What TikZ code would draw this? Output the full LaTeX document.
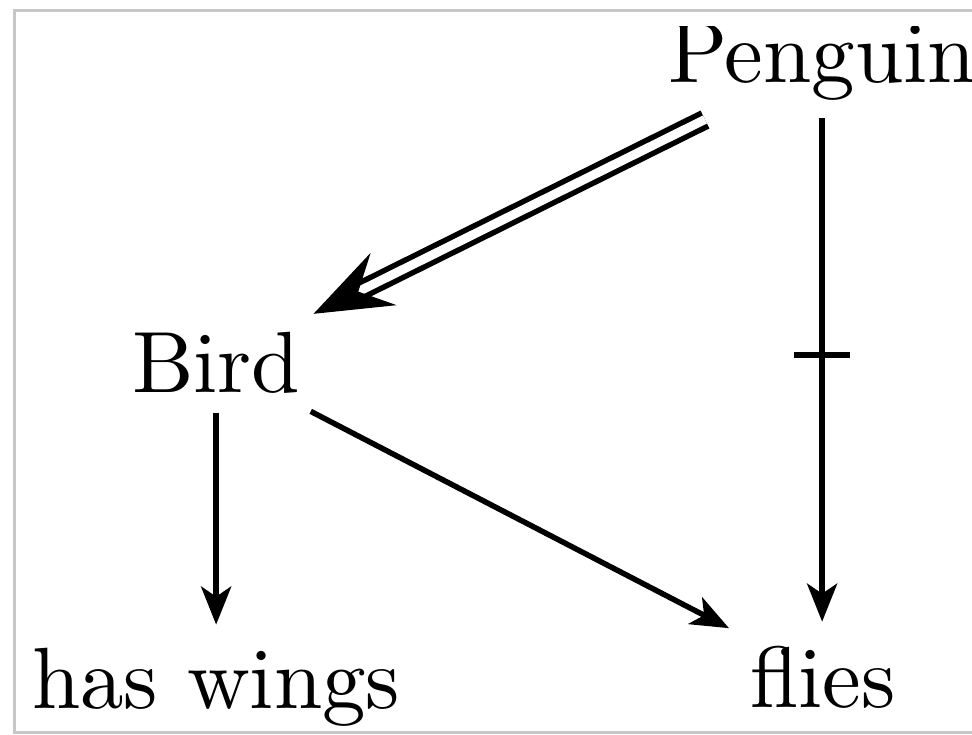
\documentclass[tikz,border=0pt]{standalone}
\usepackage{fontspec}
\setmainfont{lmroman10-regular.otf}
\usetikzlibrary{arrows.meta,calc}
\begin{document}
\begin{tikzpicture}[x=1pt,y=-1pt,
  lbl/.style={inner sep=0pt, outer sep=0pt, anchor=base west, font=\fontsize{87}{100}\selectfont},
  arr/.style={line width=5.5pt, -{Stealth[length=38pt,width=30pt,inset=10pt]}},
  dbl/.style={line width=5.5pt, double distance=9pt, -{Stealth[length=78pt,width=58pt,inset=28pt]}}]
\useasboundingbox (0,0) rectangle (972,734);
\fill[white] (0,0) rectangle (972,734);
\draw[line width=3pt, black!22] (972,10) -- (14,10) -- (14,732) -- (972,732);
\begin{scope}
\clip (16,26) rectangle (972,730);
\node[lbl] (p) at (668,82) {Penguin};
\node[lbl] (b) at (132,392) {Bird};
\node[lbl] (w) at (32,708) {has wings};
\node[lbl] (f) at (750,707) {flies};
\draw[dbl, shorten <=44pt, shorten >=40pt] (p) -- (b);
\draw[arr, shorten <=18pt, shorten >=24pt] (p.south) -- (p.south |- f.north);
\coordinate (m) at ($(p.south)!0.467!(p.south |- f.north)$);
\draw[line width=5.5pt] ([xshift=-28pt]m) -- ([xshift=28pt]m);
\draw[arr, shorten <=20pt, shorten >=23pt] (b.south) -- (b.south |- w.north);
\draw[arr, shorten <=40pt, shorten >=38pt] (b) -- (f);
\end{scope}
\end{tikzpicture}
\end{document}
